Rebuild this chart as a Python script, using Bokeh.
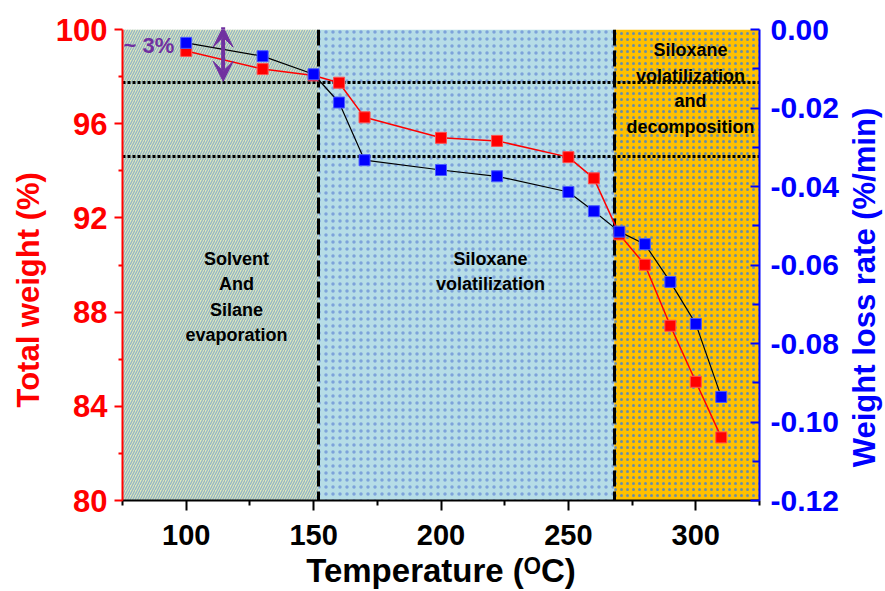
import math
from bokeh.plotting import figure
from bokeh.models import (Range1d, LinearAxis, FixedTicker, Label, Arrow, VeeHead,
                          PrintfTickFormatter, Title)
from bokeh.embed import file_html
from bokeh.resources import INLINE

# ---------------- data ----------------
temperature = [100, 130, 150, 160, 170, 200, 222, 250, 260, 270, 280, 290, 300, 310]
total_weight = [99.09, 98.32, 98.05, 97.74, 96.27, 95.40, 95.27, 94.58, 93.68, 91.30,
                90.01, 87.42, 85.04, 82.68]
loss_rate = [-0.0034, -0.0068, -0.0114, -0.0186, -0.0333, -0.0358, -0.0374, -0.0414,
             -0.0463, -0.0515, -0.0547, -0.0643, -0.0750, -0.0936]

region_start = [75, 152, 268]
region_end = [152, 268, 325]
boundary_temps = [152, 268]
reference_levels = [97.74, 94.60]

x_ticks = [100, 150, 200, 250, 300]
x_minor = [75, 125, 175, 225, 275, 325]
left_ticks = [80, 84, 88, 92, 96, 100]
left_minor = [82, 86, 90, 94, 98]
right_ticks = [-0.12, -0.10, -0.08, -0.06, -0.04, -0.02, 0.0]
right_minor = [-0.11, -0.09, -0.07, -0.05, -0.03, -0.01]

region1_text = ["Solvent", "And", "Silane", "evaporation"]
region2_text = ["Siloxane", "volatilization"]
region3_text = ["Siloxane", "volatilization", "and", "decomposition"]

FONT = "Liberation Sans"
RED = "#ff0000"
BLUE = "#0000ff"
PURPLE = "#7030a0"

p = figure(width=885, height=591, output_backend="svg", toolbar_location=None,
           x_range=Range1d(75, 325), y_range=Range1d(80, 100),
           min_border_left=122, min_border_right=126, min_border_top=29,
           min_border_bottom=87)
p.extra_y_ranges = {"rate": Range1d(-0.12, 0.0)}
p.xgrid.grid_line_color = None
p.ygrid.grid_line_color = None
p.outline_line_color = None
p.background_fill_color = "white"
p.border_fill_color = "white"

# ---------------- background regions ----------------
p.quad(left=region_start[0:1], right=region_end[0:1], bottom=80, top=100,
       fill_color="#dfe8bb", line_color=None,
       hatch_pattern="/", hatch_color="#93b5c6", hatch_scale=5, hatch_weight=1.3)
p.quad(left=region_start[1:2], right=region_end[1:2], bottom=80, top=100,
       fill_color="#b6dde7", line_color=None,
       hatch_pattern=".", hatch_color="#7da3da", hatch_scale=7, hatch_weight=1)
p.quad(left=region_start[2:3], right=region_end[2:3], bottom=80, top=100,
       fill_color="#ffc000", line_color=None,
       hatch_pattern=".", hatch_color="#6a8ea6", hatch_scale=6, hatch_weight=1)

# ---------------- guide lines ----------------
p.hspan(y=reference_levels, line_color="black", line_width=3, line_dash="3 2")
p.vspan(x=boundary_temps, line_color="black", line_width=3, line_dash="16 5")

# ---------------- series ----------------
p.line(temperature, total_weight, line_color=RED, line_width=1.5)
p.scatter(temperature, total_weight, marker="square", size=11,
          fill_color=RED, line_color="#ff5050", line_width=1)
p.line(temperature, loss_rate, y_range_name="rate", line_color="black", line_width=1.2)
p.scatter(temperature, loss_rate, y_range_name="rate", marker="square", size=11,
          fill_color=BLUE, line_color="#4a5cff", line_width=1)

# ---------------- axes ----------------
xa = p.xaxis[0]
xa.ticker = FixedTicker(ticks=x_ticks, minor_ticks=x_minor)
xa.axis_label = "Temperature (\u1d3cC)"
xa.axis_label_text_font = FONT
xa.axis_label_text_font_style = "bold"
xa.axis_label_text_font_size = "33px"
xa.axis_label_text_color = "black"
xa.axis_label_standoff = 4
xa.major_label_text_font = FONT
xa.major_label_text_font_style = "bold"
xa.major_label_text_font_size = "29px"
xa.major_label_text_color = "black"
xa.major_label_standoff = 14
xa.axis_line_color = "black"
xa.axis_line_width = 2
xa.major_tick_line_color = "black"
xa.major_tick_line_width = 2
xa.major_tick_out = 10
xa.major_tick_in = 0
xa.minor_tick_line_color = "black"
xa.minor_tick_line_width = 2
xa.minor_tick_out = 5
xa.minor_tick_in = 0

ya = p.yaxis[0]
ya.ticker = FixedTicker(ticks=left_ticks, minor_ticks=left_minor)
ya.major_label_text_font = FONT
ya.major_label_text_font_style = "bold"
ya.major_label_text_font_size = "31px"
ya.major_label_text_color = RED
ya.major_label_standoff = 7
ya.axis_line_color = RED
ya.axis_line_width = 2
ya.major_tick_line_color = RED
ya.major_tick_line_width = 2
ya.major_tick_out = 8
ya.major_tick_in = 0
ya.minor_tick_line_color = RED
ya.minor_tick_line_width = 2
ya.minor_tick_out = 4
ya.minor_tick_in = 0

p.add_layout(Title(text="Total weight (%)", align="left", offset=93,
                   text_font=FONT, text_font_style="bold", text_font_size="31px",
                   text_color=RED, standoff=13), "left")

ra = LinearAxis(y_range_name="rate",
                ticker=FixedTicker(ticks=right_ticks, minor_ticks=right_minor),
                formatter=PrintfTickFormatter(format="%.2f"))
ra.major_label_text_font = FONT
ra.major_label_text_font_style = "bold"
ra.major_label_text_font_size = "30px"
ra.major_label_text_color = BLUE
ra.major_label_standoff = 11
ra.axis_line_color = BLUE
ra.axis_line_width = 2
ra.major_tick_line_color = BLUE
ra.major_tick_line_width = 2
ra.major_tick_in = 9
ra.major_tick_out = 0
ra.minor_tick_line_color = BLUE
ra.minor_tick_line_width = 2
ra.minor_tick_in = 7
ra.minor_tick_out = 0
p.add_layout(ra, "right")

# right-hand axis title, placed in its own side panel (reads bottom to top)
p.add_layout(Label(x=23, y=213, x_units="screen", y_units="screen",
                   text="Weight loss rate (%/min)", angle=math.pi / 2,
                   text_align="center", text_baseline="middle",
                   text_font=FONT, text_font_style="bold", text_font_size="31px",
                   text_color=BLUE), "right")

# ---------------- annotations ----------------
def block(lines, x, y_top, step):
    for i, t in enumerate(lines):
        p.add_layout(Label(x=x, y=y_top - i * step, text=t,
                           text_align="center", text_baseline="middle",
                           text_font=FONT, text_font_style="bold",
                           text_font_size="18px", text_color="black"))

block(region1_text, 119.7, 90.27, 1.08)
block(region2_text, 219.4, 90.27, 1.06)
block(region3_text, 297.9, 99.12, 1.08)

p.add_layout(Label(x=75.4, y=99.30, text="~ 3%", text_align="left",
                   text_baseline="middle", text_font=FONT, text_font_style="bold",
                   text_font_size="22px", text_color=PURPLE))

p.add_layout(Arrow(x_start=114.5, y_start=97.80, x_end=114.5, y_end=100.10,
                   line_color=PURPLE, line_width=4,
                   start=VeeHead(size=20, fill_color=PURPLE, line_color=PURPLE),
                   end=VeeHead(size=20, fill_color=PURPLE, line_color=PURPLE)))

open("out.html", "w").write(file_html(p, INLINE))
